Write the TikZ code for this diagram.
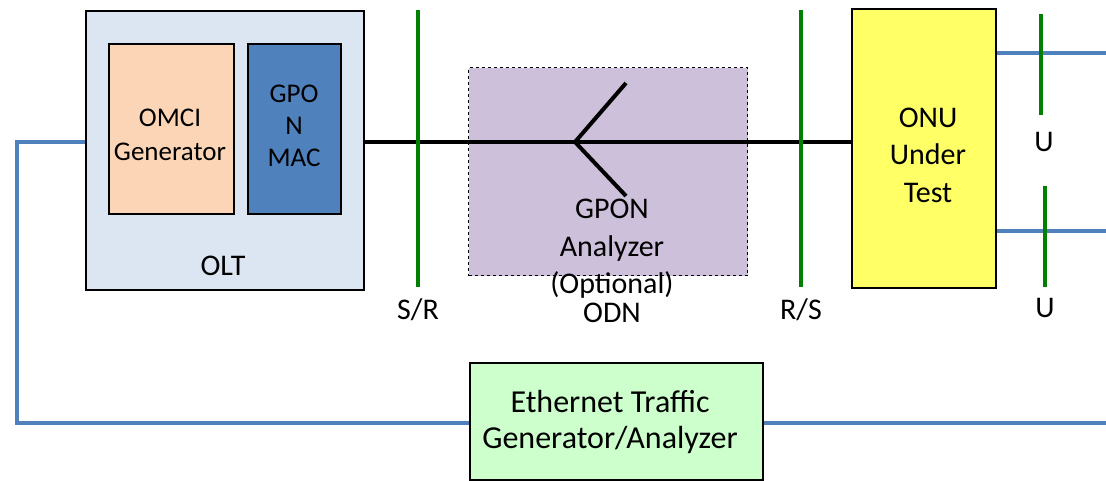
\documentclass[tikz,border=0pt]{standalone}
\usepackage{fontspec}
\setmainfont{Carlito}
\definecolor{oltfill}{HTML}{DCE6F2}
\definecolor{omcifill}{HTML}{FBD5B5}
\definecolor{macfill}{HTML}{4F81BD}
\definecolor{odnfill}{HTML}{CCC0DA}
\definecolor{onufill}{HTML}{FFFF66}
\definecolor{ethfill}{HTML}{CCFFCC}
\definecolor{ethblue}{HTML}{4F81BD}
\definecolor{refgreen}{HTML}{008000}
\begin{document}
\begin{tikzpicture}[x=1pt,y=-1pt,
  box/.style={draw=black, line width=1.5pt, inner sep=0pt, anchor=north west},
  lbl/.style={font=\fontsize{30}{37.5}\selectfont, align=center, inner sep=0pt},
  smalllbl/.style={lbl, font=\fontsize{27}{#1}\selectfont},
  refline/.style={draw=refgreen, line width=4pt},
  ethline/.style={draw=ethblue, line width=4pt},
  fibline/.style={draw=black, line width=4pt}]
\useasboundingbox (0,0) rectangle (1106,480);
% boxes
\node[box, fill=oltfill, minimum width=278pt, minimum height=279pt] (olt) at (85,10) {};
\node[box, fill=omcifill, minimum width=125pt, minimum height=170pt] (omci) at (108,43) {};
\node[box, fill=macfill, minimum width=93pt, minimum height=170pt] (mac) at (247,43) {};
\node[box, fill=odnfill, dashed, line width=1.2pt, minimum width=279pt, minimum height=208pt] (odn) at (468,67) {};
\node[box, fill=onufill, minimum width=144pt, minimum height=279pt] (onu) at (851,8) {};
\node[box, fill=ethfill, minimum width=293pt, minimum height=117pt] (eth) at (469,362) {};
% coordinates
\coordinate (fy) at (0,142);
\coordinate (ey) at (0,423);
\coordinate (c1) at (17,142);
\coordinate (c2) at (17,423);
\coordinate (rend) at (1106,423);
\coordinate (u1y) at (0,53);
\coordinate (u2y) at (0,231);
\coordinate (o1end) at (1106,53);
\coordinate (o2end) at (1106,231);
\coordinate (sp) at (575,142);
\coordinate (sp1) at (626,83);
\coordinate (sp2) at (626,196);
\coordinate (srt) at (418,10);
\coordinate (srb) at (418,287);
\coordinate (rst) at (801,10);
\coordinate (rsb) at (801,287);
\coordinate (u1t) at (1041,14);
\coordinate (u1b) at (1041,115);
\coordinate (u2t) at (1045,186);
\coordinate (u2b) at (1045,287);
% ethernet lines
\draw[ethline] (olt.west |- fy) -- (c1) -- (c2) -- (eth.west |- ey);
\draw[ethline] (eth.east |- ey) -- (rend);
\draw[ethline] (onu.east |- u1y) -- (o1end);
\draw[ethline] (onu.east |- u2y) -- (o2end);
% fibre
\draw[fibline] (olt.east |- fy) -- (onu.west |- fy);
\draw[fibline] (sp1) -- (sp) -- (sp2);
% reference points
\draw[refline] (srt) -- (srb);
\draw[refline] (rst) -- (rsb);
\draw[refline] (u1t) -- (u1b);
\draw[refline] (u2t) -- (u2b);
% labels
\node[smalllbl=34pt] (tomci) at (170,135) {OMCI\\Generator};
\node[smalllbl=32pt] (tmac) at (294,126) {GPO\\N\\MAC};
\node[lbl] (tolt) at (223,266) {OLT};
\node[lbl] (tsr) at (418,310) {S/R};
\node[lbl] (trs) at (801,310) {R/S};
\node[lbl] (todn) at (612,313) {ODN};
\node[lbl] (tana) at (612,249) {GPON\\Analyzer\\(Optional)};
\node[lbl] (tonu) at (928,155) {ONU\\Under\\Test};
\node[lbl] (tu1) at (1044,142) {U};
\node[lbl] (tu2) at (1045,308) {U};
\node[lbl, font=\fontsize{32}{36}\selectfont] (teth) at (610,422) {Ethernet Traffic\\Generator/Analyzer};
\end{tikzpicture}
\end{document}
